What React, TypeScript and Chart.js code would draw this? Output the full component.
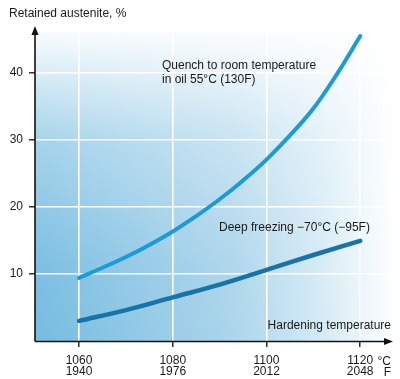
import React, { useEffect, useRef } from "react";
import { Chart, registerables } from "chart.js";

Chart.register(...registerables);

const tempC = [1060, 1065, 1070, 1075, 1080, 1085, 1090, 1095, 1100, 1105, 1110, 1115, 1120];
const quenchOil = [9.4, 10.9, 12.5, 14.3, 16.3, 18.6, 21.1, 23.9, 27.0, 30.6, 34.6, 39.7, 45.4];
const deepFreezeC = [1060, 1070, 1080, 1090, 1100, 1110, 1120];
const deepFreezing = [3.0, 4.6, 6.5, 8.4, 10.6, 12.8, 14.9];
const xTicksC = [1060, 1080, 1100, 1120];
const xTicksF = ["1940", "1976", "2012", "2048"];
const yTicks = [10, 20, 30, 40];

const FONT = "'Liberation Sans', Arial, Helvetica, sans-serif";

const decorPlugin = {
  id: "decor",
  beforeDraw(chart: any) {
    const { ctx, chartArea, width } = chart;
    const { left, top, bottom } = chartArea;
    ctx.save();
    const hg = ctx.createLinearGradient(left, 0, width - 4, 0);
    hg.addColorStop(0, "#76bce1");
    hg.addColorStop(0.55, "#acd5eb");
    hg.addColorStop(0.8, "#d6ebf6");
    hg.addColorStop(1, "#ffffff");
    ctx.fillStyle = hg;
    ctx.fillRect(left, top, width - left, bottom - top);
    const vg = ctx.createLinearGradient(0, top, 0, bottom);
    vg.addColorStop(0, "rgba(255,255,255,0.95)");
    vg.addColorStop(0.35, "rgba(255,255,255,0.35)");
    vg.addColorStop(0.75, "rgba(255,255,255,0.05)");
    vg.addColorStop(1, "rgba(255,255,255,0)");
    ctx.fillStyle = vg;
    ctx.fillRect(left, top, width - left, bottom - top);
    ctx.restore();
  },
  afterDraw(chart: any) {
    const { ctx, chartArea } = chart;
    const { left, right, bottom } = chartArea;
    ctx.save();
    ctx.strokeStyle = "#111";
    ctx.fillStyle = "#111";
    ctx.lineWidth = 1.6;
    // y axis
    ctx.beginPath();
    ctx.moveTo(left, bottom + 0.5);
    ctx.lineTo(left, 33);
    ctx.stroke();
    ctx.beginPath();
    ctx.moveTo(left, 26);
    ctx.lineTo(left - 3.5, 35);
    ctx.lineTo(left + 3.5, 35);
    ctx.closePath();
    ctx.fill();
    // x axis
    ctx.beginPath();
    ctx.moveTo(left, bottom + 0.5);
    ctx.lineTo(right - 6, bottom + 0.5);
    ctx.stroke();
    ctx.beginPath();
    ctx.moveTo(right, bottom + 0.5);
    ctx.lineTo(right - 9, bottom - 3);
    ctx.lineTo(right - 9, bottom + 4);
    ctx.closePath();
    ctx.fill();

    ctx.font = `12px ${FONT}`;
    ctx.fillStyle = "#1a1a1a";
    ctx.textBaseline = "alphabetic";
    ctx.textAlign = "left";
    ctx.fillText("Retained austenite, %", 9, 17);
    ctx.fillText("Quench to room temperature", 162, 69);
    ctx.fillText("in oil 55°C (130F)", 162, 83);
    ctx.fillText("Deep freezing \u221270°C (\u221295F)", 219, 231);
    ctx.textAlign = "right";
    ctx.fillText("Hardening temperature", 391, 329);
    ctx.fillText("°C", 391, 365);
    ctx.fillText("F", 391, 376);
    ctx.restore();
  },
};

export default function App() {
  const ref = useRef<HTMLCanvasElement | null>(null);
  useEffect(() => {
    document.body.style.margin = "0";
    const canvas = ref.current!;
    const chart = new Chart(canvas, {
      type: "line",
      data: {
        datasets: [
          {
            label: "Quench to room temperature in oil 55°C (130F)",
            data: tempC.map((x, i) => ({ x, y: quenchOil[i] })),
            borderColor: "#1b9cd8",
            borderWidth: 4,
            pointRadius: 0,
            tension: 0.4,
            borderCapStyle: "round",
          },
          {
            label: "Deep freezing −70°C (−95F)",
            data: deepFreezeC.map((x, i) => ({ x, y: deepFreezing[i] })),
            borderColor: "#1774a9",
            borderWidth: 4.5,
            pointRadius: 0,
            tension: 0.4,
            borderCapStyle: "round",
          },
        ],
      },
      options: {
        animation: false,
        responsive: false,
        maintainAspectRatio: false,
        layout: { padding: { top: 32, right: 7, left: 0, bottom: 0 } },
        plugins: { legend: { display: false }, tooltip: { enabled: false } },
        scales: {
          x: {
            type: "linear",
            min: 1050.6,
            max: 1127,
            afterBuildTicks: (s: any) => {
              s.ticks = xTicksC.map((v) => ({ value: v }));
            },
            afterFit: (s: any) => {
              s.height = 38;
            },
            ticks: {
              autoSkip: false,
              maxRotation: 0,
              color: "#1a1a1a",
              font: { family: FONT, size: 12, lineHeight: 0.95 },
              padding: 8,
              callback: (v: any) => {
                const i = xTicksC.indexOf(Number(v));
                return [String(v), xTicksF[i] ?? ""];
              },
            },
            grid: {
              color: "#ffffff",
              lineWidth: 1.6,
              drawTicks: true,
              tickLength: 6,
              tickColor: "#111",
              tickWidth: 1.3,
            },
            border: { display: false },
          },
          y: {
            type: "linear",
            min: 0,
            max: 46,
            afterBuildTicks: (s: any) => {
              s.ticks = yTicks.map((v) => ({ value: v }));
            },
            afterFit: (s: any) => {
              s.width = 35;
            },
            ticks: {
              color: "#1a1a1a",
              font: { family: FONT, size: 12 },
              padding: 6,
            },
            grid: {
              color: "#ffffff",
              lineWidth: 1.6,
              drawTicks: true,
              tickLength: 6,
              tickColor: "#111",
              tickWidth: 1.3,
            },
            border: { display: false },
          },
        },
      },
      plugins: [decorPlugin],
    } as any);
    return () => chart.destroy();
  }, []);
  return (
    <div style={{ width: 400, height: 379 }}>
      <canvas ref={ref} width={400} height={379} style={{ display: "block" }} />
    </div>
  );
}
